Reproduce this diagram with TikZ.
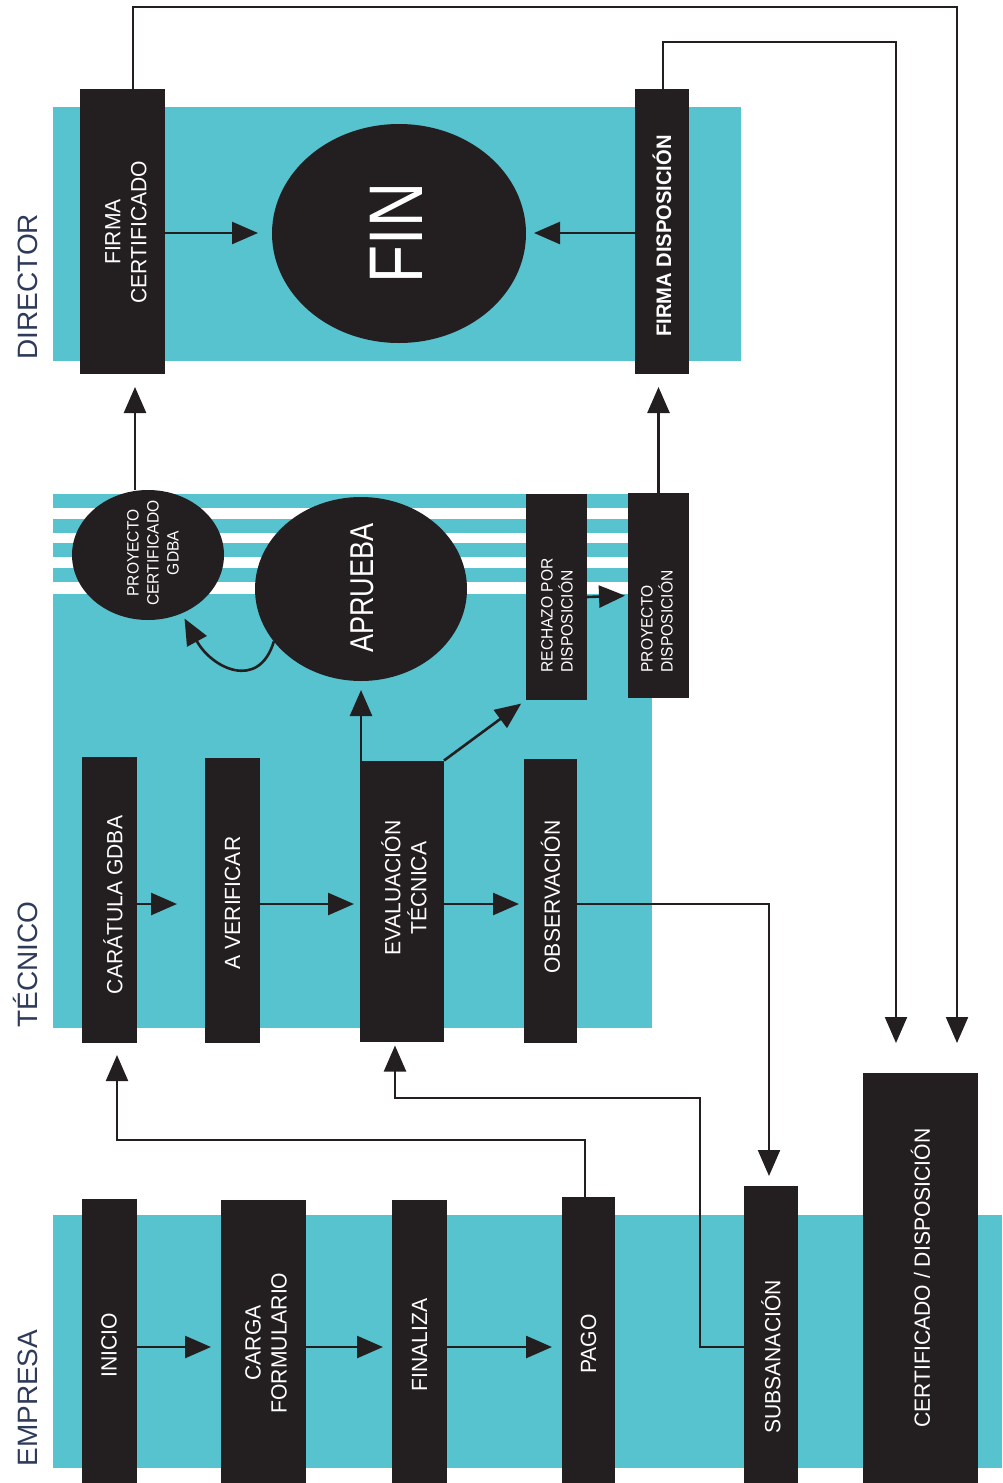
\documentclass[tikz,border=0pt]{standalone}
\usepackage{fontspec}
\setmainfont{Liberation Sans}
\newfontfamily\boxfont[FakeStretch=0.96]{Liberation Sans}
\newfontfamily\bigfont[FakeStretch=0.82]{Liberation Sans}
\newfontfamily\smallfont[FakeStretch=0.95]{Liberation Sans}
\usetikzlibrary{arrows.meta,calc,shapes.geometric}
\definecolor{cyanbg}{HTML}{56C3CF}
\definecolor{boxblk}{HTML}{231F20}
\definecolor{lanelbl}{HTML}{2E3A5A}
\begin{document}
\begin{tikzpicture}[x=0.5pt,y=-0.5pt,
  box/.style={fill=boxblk, draw=none, inner sep=0pt, outer sep=0pt, rectangle},
  oval/.style={ellipse, fill=boxblk, draw=none, inner sep=0pt, outer sep=0pt},
  vtext/.style={rotate=90, text=white, align=center, inner sep=0pt, font=\boxfont\fontsize{11}{13}\selectfont},
  smalltext/.style={rotate=90, text=white, align=center, inner sep=0pt, font=\smallfont\fontsize{8.2}{10}\selectfont},
  lane/.style={rotate=90, anchor=west, text=lanelbl, inner sep=0pt, text height=10pt, text depth=0pt, font=\fontsize{14}{16}\selectfont},
  arr/.style={draw=boxblk, line width=1.3pt, -{Triangle[length=13pt,width=11pt]}},
]
\useasboundingbox (0,0) rectangle (1002,1483);

% ---- lanes (background bands) ----
\fill[cyanbg] (53,107) rectangle (741,361);
\fill[cyanbg] (53,494) rectangle (652,1028);
\fill[white] (53,508) rectangle (652,519);
\fill[white] (53,533) rectangle (652,543);
\fill[white] (53,557) rectangle (652,568);
\fill[white] (53,582) rectangle (652,594);
\fill[cyanbg] (53,1215) rectangle (1002,1468);

\node[lane] (lblD) at (27,360) {DIRECTOR};
\node[lane] (lblT) at (27,1028) {TÉCNICO};
\node[lane] (lblE) at (27,1467) {EMPRESA};

% ---- rows ----
\coordinate (rowD) at (0,233);
\coordinate (rowT) at (0,904);
\coordinate (rowE) at (0,1347);

% ---- director ----
\node[box, minimum width=42.5pt, minimum height=142.5pt] (firmacert) at (122.5,231.5) {};
\node[box, minimum width=27pt, minimum height=142.5pt] (firmadisp) at (662,231.5) {};
\node[oval, minimum width=127pt, minimum height=109.5pt] (fin) at (399,233.5) {};
\node[vtext] (tfirmacert) at (126,232) {FIRMA\\CERTIFICADO};
\node[vtext, font=\boxfont\bfseries\fontsize{10.5}{13}\selectfont] (tfirmadisp) at (662,236) {FIRMA DISPOSICIÓN};
\node[rotate=90, text=white, inner sep=0pt, font=\bigfont\fontsize{38}{40}\selectfont] (tfin) at (396.5,233) {FIN};

% ---- tecnico ----
\node[oval, minimum width=76pt, minimum height=65pt] (proycert) at (148,555) {};
\node[oval, minimum width=106pt, minimum height=92pt] (aprueba) at (361,589) {};
\node[box, minimum width=30.5pt, minimum height=103pt] (rechazo) at (556.5,597) {};
\node[box, minimum width=30.5pt, minimum height=102.5pt] (proydisp) at (658.5,595.5) {};
\node[smalltext] (tproycert) at (153,553) {PROYECTO\\CERTIFICADO\\GDBA};
\node[rotate=90, text=white, inner sep=0pt, font=\bigfont\fontsize{16.5}{18}\selectfont] (taprueba) at (362,588) {APRUEBA};
\node[smalltext, align=left, anchor=west] (trechazo) at (557,673) {RECHAZO POR\\DISPOSICIÓN};
\node[smalltext, align=left, anchor=west] (tproydisp) at (657,673) {PROYECTO\\DISPOSICIÓN};

\node[box, minimum width=27.5pt, minimum height=143pt] (caratula) at (109.5,900) {};
\node[box, minimum width=27.5pt, minimum height=142.5pt] (averif) at (232.5,900.5) {};
\node[box, minimum width=42pt, minimum height=140.5pt] (eval) at (402,901) {};
\node[box, minimum width=26.5pt, minimum height=142pt] (obs) at (550.5,901) {};
\node[vtext] (tcaratula) at (113,905) {CARÁTULA GDBA};
\node[vtext] (taverif) at (232.5,903) {A VERIFICAR};
\node[vtext] (teval) at (404,888) {EVALUACIÓN\\TÉCNICA};
\node[vtext] (tobs) at (550.5,897) {OBSERVACIÓN};

% ---- empresa ----
\node[box, minimum width=27.5pt, minimum height=142pt] (inicio) at (109.5,1341) {};
\node[box, minimum width=42.5pt, minimum height=141.5pt] (carga) at (263.5,1341.5) {};
\node[box, minimum width=27.5pt, minimum height=141.5pt] (finaliza) at (419.5,1341.5) {};
\node[box, minimum width=26.5pt, minimum height=143pt] (pago) at (588.5,1340) {};
\node[box, minimum width=27pt, minimum height=148.5pt] (subs) at (771,1334.5) {};
\node[box, minimum width=57.5pt, minimum height=205pt] (certdisp) at (920.5,1278) {};
\node[vtext] (tinicio) at (109,1345) {INICIO};
\node[vtext] (tcarga) at (266,1343) {CARGA\\FORMULARIO};
\node[vtext] (tfinaliza) at (419.5,1345) {FINALIZA};
\node[vtext] (tpago) at (588.5,1344) {PAGO};
\node[vtext] (tsubs) at (771,1357) {SUBSANACIÓN};
\node[vtext] (tcertdisp) at (920.5,1278) {CERTIFICADO / DISPOSICIÓN};

% ---- helper coordinates ----
\coordinate (c1) at (957,7);
\coordinate (c2) at (896,42);
\coordinate (c3) at (700,1098);
\coordinate (c4) at (117,1140);
\coordinate (fcx) at ($(firmacert.north)+(10.5,0)$);
\coordinate (fdx) at ($(firmadisp.north)+(1,0)$);
\coordinate (pcx) at ($(firmacert.south)+(12.5,0)$);
\coordinate (evx) at ($(eval.south)+(-7,0)$);
\coordinate (crx) at ($(caratula.south)+(7.5,0)$);
\coordinate (pgx) at ($(pago.north)+(-3.5,0)$);
\coordinate (sbx) at ($(subs.north)+(-2,0)$);

% ---- connectors ----
\draw[arr, line width=1.1pt, shorten >=15pt] (fcx) |- (c1) -- (c1 |- certdisp.north);
\draw[arr, line width=1.1pt, shorten >=15pt] (fdx) |- (c2) -- (c2 |- certdisp.north);
\draw[arr, shorten >=7pt] (firmacert.east |- rowD) -- (fin.west |- rowD);
\draw[arr, shorten >=4pt] (firmadisp.west |- rowD) -- (fin.east |- rowD);
\draw[arr, shorten >=6.5pt] (pcx |- proycert.north) -- (pcx);
\draw[arr, shorten >=6.5pt] (proydisp.north) -- (proydisp.north |- firmadisp.south);
\draw[arr, shorten >=1.5pt] (rechazo.east) -- (proydisp.west);
\draw[arr, shorten >=3pt] (aprueba.211) .. controls +(-15,50) and +(30,55) .. (proycert.300);
\draw[arr, shorten >=4.5pt] (aprueba.south |- eval.north) -- (aprueba.south);
\draw[arr, shorten >=3pt] (eval.north east) -- (rechazo.south west);
\draw[arr, shorten >=14pt] (caratula.east |- rowT) -- (averif.west |- rowT);
\draw[arr, shorten >=3pt] (averif.east |- rowT) -- (eval.west |- rowT);
\draw[arr, shorten >=2.5pt] (eval.east |- rowT) -- (obs.west |- rowT);
\draw[arr, line width=1.1pt, shorten >=5pt] (obs.east |- rowT) -| (sbx);
\draw[arr, line width=1.1pt, shorten >=2pt] (subs.west |- rowE) -| (c3) -| (evx);
\draw[arr, line width=1.1pt, shorten >=6pt] (pgx) |- (c4) -- (crx);
\draw[arr, shorten >=5pt] (inicio.east |- rowE) -- (carga.west |- rowE);
\draw[arr, shorten >=4.5pt] (carga.east |- rowE) -- (finaliza.west |- rowE);
\draw[arr, shorten >=5pt] (finaliza.east |- rowE) -- (pago.west |- rowE);
\end{tikzpicture}
\end{document}
